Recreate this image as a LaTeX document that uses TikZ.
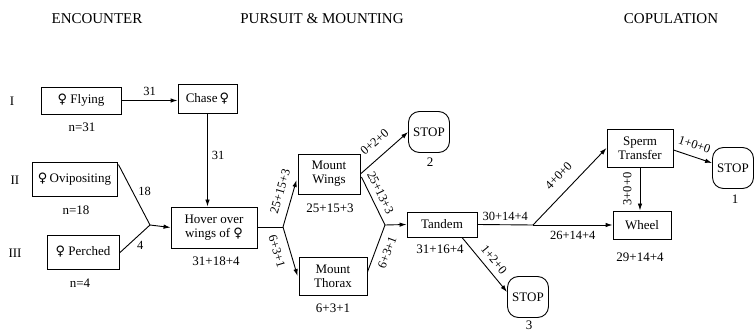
\documentclass[tikz,border=0pt]{standalone}
\usepackage{fontspec}
\setmainfont{Liberation Serif}
\newfontfamily\symf{DejaVu Sans}
\usetikzlibrary{arrows.meta,calc}
\newcommand{\fem}{{\symf\char"2640}}
\tikzset{
  box/.style={draw, line width=0.9pt, inner sep=0pt, align=center, font=\rmfamily\fontsize{13}{14}\selectfont},
  stopbox/.style={draw, line width=0.9pt, inner sep=0pt, rounded corners=11pt, minimum width=41pt, minimum height=41pt, font=\rmfamily\fontsize{13}{14}\selectfont},
  ln/.style={line width=0.9pt},
  arr/.style={line width=0.9pt, -{Latex[length=7pt,width=4.5pt]}},
  lbl/.style={font=\rmfamily\fontsize{12.5}{14}\selectfont, inner sep=4pt},
  txt/.style={font=\rmfamily\fontsize{13}{14}\selectfont, inner sep=0pt},
  ttl/.style={font=\rmfamily\fontsize{15}{16}\selectfont, inner sep=0pt},
}
\begin{document}
\begin{tikzpicture}[x=1pt,y=-1pt]
\useasboundingbox (0,0) rectangle (755,331);
% titles
\node[ttl] (t1) at (97,19) {ENCOUNTER};
\node[ttl] (t2) at (322,19) {PURSUIT \& MOUNTING};
\node[ttl] (t3) at (671,19) {COPULATION};
% row labels
\node[txt] (r1) at (12,101) {I};
\node[txt] (r2) at (15,180) {II};
\node[txt] (r3) at (15,253) {III};
% boxes
\node[box, minimum width=80pt, minimum height=27pt] (fly) at (81,100.5) {\fem\ Flying};
\node[box, minimum width=59pt, minimum height=29pt] (chase) at (207.5,98.5) {Chase\,\fem};
\node[box, minimum width=85pt, minimum height=34pt] (ovi) at (74.5,179) {\fem\,Ovipositing};
\node[box, minimum width=72pt, minimum height=34pt] (perch) at (83,252) {\fem\ Perched};
\node[box, minimum width=86pt, minimum height=41pt] (hover) at (214,227.5) {Hover over\\wings of \fem};
\node[box, minimum width=62pt, minimum height=40pt] (mw) at (329,174) {Mount\\Wings};
\node[box, minimum width=68pt, minimum height=38pt] (mt) at (333,276) {Mount\\Thorax};
\node[stopbox] (stop2) at (429,132) {STOP};
\node[box, minimum width=70pt, minimum height=25pt] (tandem) at (442,224.5) {Tandem};
\node[stopbox] (stop3) at (528,297) {STOP};
\node[box, minimum width=66pt, minimum height=38pt] (sperm) at (640,148) {Sperm\\Transfer};
\node[box, minimum width=58pt, minimum height=28pt] (wheel) at (642,225) {Wheel};
\node[stopbox] (stop1) at (733,168) {STOP};
% counts under boxes
\node[txt] (n1) at (82,127) {n=31};
\node[txt] (n2) at (76,210) {n=18};
\node[txt] (n3) at (80,283) {n=4};
\node[txt] (c1) at (216,261) {31+18+4};
\node[txt] (c2) at (330,208) {25+15+3};
\node[txt] (c3) at (333,308) {6+3+1};
\node[txt] (c4) at (430,162) {2};
\node[txt] (c5) at (440,249) {31+16+4};
\node[txt] (c6) at (529,325) {3};
\node[txt] (c7) at (640,257) {29+14+4};
\node[txt] (c8) at (735,199) {1};
% junctions
\coordinate (j1) at (150,225);
\coordinate (j2) at (283,227);
\coordinate (j3) at (385,225);
\coordinate (j4) at (533,225);
% connectors
\draw[arr] (fly.east) -- (fly.east -| chase.west) node[lbl, midway, above] {31};
\draw[arr] (chase.south) -- (chase.south |- hover.north) node[lbl, pos=0.45, right] {31};
\draw[ln] ($(ovi.north east)+(1,3)$) -- (j1) node[lbl, pos=0.55, above right, inner sep=2pt] {18};
\draw[ln] ($(perch.east)+(0,1)$) -- (j1) node[lbl, pos=0.5, below right, inner sep=2pt] {4};
\draw[arr] (j1) -- (hover.west);
\draw[ln] (hover.east |- j2) -- (j2);
\draw[arr] (j2) -- ($(mw.west)+(-1,6)$) node[lbl, sloped, pos=0.68, above, inner sep=8pt] {25+15+3};
\draw[arr] (j2) -- ($(mt.west)+(-1,0)$) node[lbl, sloped, pos=0.42, below, inner sep=8pt] {6+3+1};
\draw[arr] (mw.east) -- (stop2.west) node[lbl, sloped, pos=0.5, above, inner sep=10pt] {0+2+0};
\draw[ln] ($(mw.east)+(1,3)$) -- (j3) node[lbl, sloped, pos=0.42, above, inner sep=5.5pt] {25+13+3};
\draw[ln] ($(mt.east)+(0,-4)$) -- (j3) node[lbl, sloped, pos=0.5, below, inner sep=7pt] {6+3+1};
\draw[arr] (j3) -- (tandem.west);
\draw[arr] ($(tandem.south)+(20,0)$) -- ($(stop3.west)+(0,-5)$) node[lbl, sloped, pos=0.53, above, inner sep=6pt] {1+2+0};
\draw[ln] (tandem.east) -- (j4) node[lbl, midway, above, inner sep=4pt] {30+14+4};
\draw[arr] (j4) -- (wheel.west) node[lbl, pos=0.5, below, inner sep=6pt] {26+14+4};
\draw[arr] (j4) -- (sperm.west) node[lbl, sloped, pos=0.5, above, inner sep=11pt] {4+0+0};
\draw[arr] (sperm.south) -- (sperm.south |- wheel.north) node[lbl, midway, rotate=90, above, inner sep=8pt] {3+0+0};
\draw[arr] ($(sperm.east)+(0,2)$) -- ($(stop1.west)+(0,-5)$) node[lbl, sloped, pos=0.45, above, inner sep=7pt] {1+0+0};
\end{tikzpicture}
\end{document}
